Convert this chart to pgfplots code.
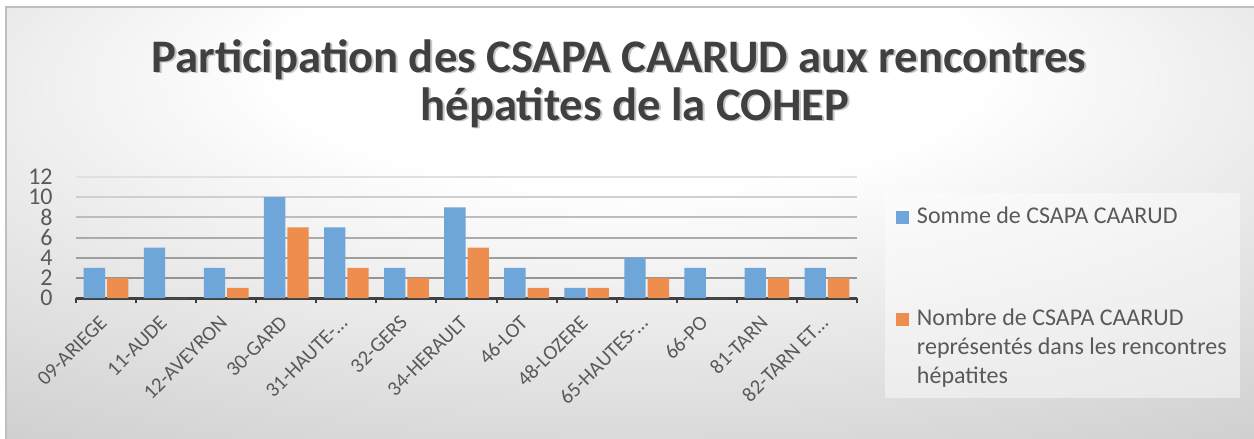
\documentclass[border=0pt]{standalone}
\usepackage{fontspec}
\setmainfont{Carlito}
\usepackage{pgfplots}
\pgfplotsset{compat=1.18}
\definecolor{cblue}{HTML}{6FA6DA}
\definecolor{corange}{HTML}{EE8E4E}
\definecolor{txt}{HTML}{595959}
\definecolor{ttl}{HTML}{404040}
\pgfdeclareradialshading{bg}{\pgfpoint{0bp}{22bp}}{color(0bp)=(white); color(14bp)=(white); color(50bp)=(black!23); color(80bp)=(black!32)}
\begin{document}
\begin{tikzpicture}
\begin{scope}[x=0.75pt,y=-0.75pt]
\useasboundingbox (0,0) rectangle (1254,439);
\fill[white] (0,0) rectangle (1254,439);
\shade[shading=bg] (6,7) rectangle (1254,439);
\draw[black!25, line width=1pt] (6,439) -- (6,7) -- (1254,7);
% legend box
\fill[white, opacity=0.45] (885,193) rectangle (1240,398);
% title
\node[anchor=base, font=\fontsize{35}{40}\selectfont\bfseries, text=black, opacity=0.22] at (621,73.5) {Participation des CSAPA CAARUD aux rencontres};
\node[anchor=base, font=\fontsize{35}{40}\selectfont\bfseries, text=black, opacity=0.22] at (637,121.5) {hépatites de la COHEP};
\node[anchor=base, font=\fontsize{35}{40}\selectfont\bfseries, text=ttl] at (619,72) {Participation des CSAPA CAARUD aux rencontres};
\node[anchor=base, font=\fontsize{35}{40}\selectfont\bfseries, text=ttl] at (635,120) {hépatites de la COHEP};
\end{scope}
\begin{axis}[
  at={(57pt,-223.5pt)}, anchor=south west,
  scale only axis, width=585.75pt, height=90.75pt,
  xmin=-0.5, xmax=12.5, ymin=0, ymax=12,
  ybar=1.5pt, bar width=16pt,
  axis lines*=left,
  y axis line style={draw=none},
  x axis line style={draw=ttl, line width=2.25pt},
  xtick={0,...,12},
  xticklabels={09-ARIEGE,11-AUDE,12-AVEYRON,30-GARD,31-HAUTE-…,32-GERS,34-HERAULT,46-LOT,48-LOZERE,65-HAUTES-…,66-PO,81-TARN,82-TARN ET…},
  minor xtick={-0.5,0.5,...,12.5},
  major tick length=0pt,
  minor tick length=4pt,
  tick align=outside,
  minor tick style={draw=ttl, line width=1.5pt},
  ytick={0,2,...,12},
  /pgf/number format/assume math mode=true,
  yticklabel style={font=\fontsize{18}{20}\selectfont, text=txt, xshift=-14pt},
  xticklabel style={font=\fontsize{15.5}{18}\selectfont, text=txt, xshift=0.5pt, yshift=-13.5pt, rotate=45, anchor=east},
  clip=false,
  legend style={at={(axis description cs:1.050,0.752)}, anchor=north west, draw=none, fill=none,
    font=\fontsize{18}{21.75}\selectfont, text=txt, inner sep=0pt,
    nodes={inner sep=0pt}, cells={anchor=base west}, column sep=6pt, row sep=59.5pt},
  legend image code/.code={\fill[#1] (0pt,0pt) rectangle (9.5pt,9.5pt);},
]
\draw[line width=1.5pt, color=black!42] (axis cs:-0.5,2) -- (axis cs:12.5,2);
\draw[line width=1.5pt, color=black!38] (axis cs:-0.5,4) -- (axis cs:12.5,4);
\draw[line width=1.5pt, color=black!33] (axis cs:-0.5,6) -- (axis cs:12.5,6);
\draw[line width=1.5pt, color=black!26] (axis cs:-0.5,8) -- (axis cs:12.5,8);
\draw[line width=1.5pt, color=black!19] (axis cs:-0.5,10) -- (axis cs:12.5,10);
\draw[line width=1.5pt, color=black!12] (axis cs:-0.5,12) -- (axis cs:12.5,12);
\addplot[fill=cblue, draw=none]
  coordinates {(0,3) (1,5) (2,3) (3,10) (4,7) (5,3) (6,9) (7,3) (8,1) (9,4) (10,3) (11,3) (12,3)};
\addplot[fill=corange, draw=none]
  coordinates {(0,2) (1,0) (2,1) (3,7) (4,3) (5,2) (6,5) (7,1) (8,1) (9,2) (10,0) (11,2) (12,2)};
\addlegendentry{Somme de CSAPA CAARUD}
\addlegendentry{\begin{tabular}[t]{@{}l@{}}Nombre de CSAPA CAARUD\\représentés dans les rencontres\\hépatites\end{tabular}}
\end{axis}
\end{tikzpicture}
\end{document}
